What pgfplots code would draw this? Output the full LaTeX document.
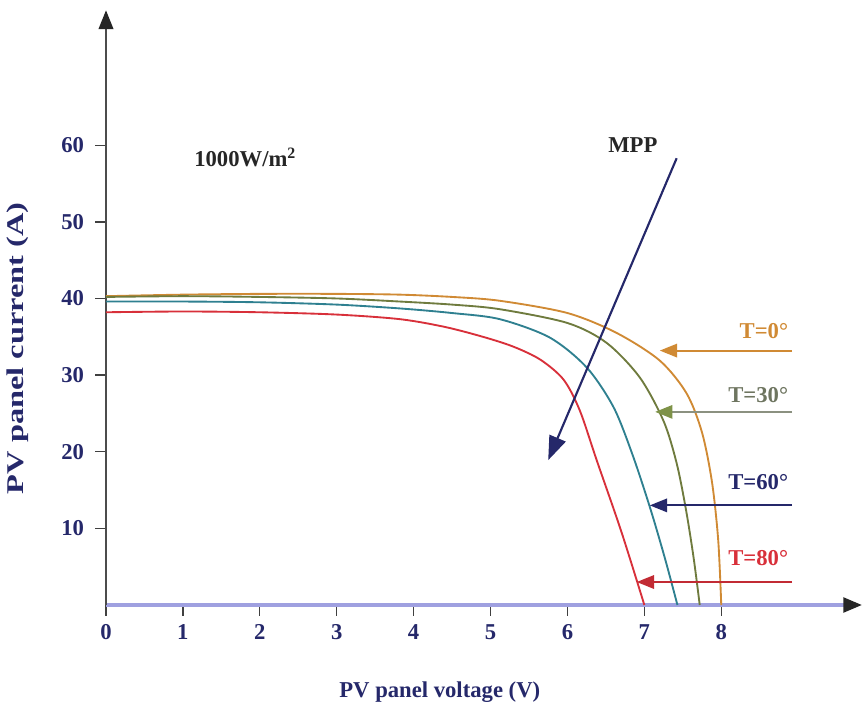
\documentclass[border=0pt]{standalone}
\usepackage{fontspec}
\setmainfont{Liberation Serif}
\usepackage{graphicx}
\usepackage{pgfplots}
\pgfplotsset{compat=1.18}
\usetikzlibrary{arrows.meta}
\definecolor{navy}{HTML}{25286A}
\definecolor{corange}{HTML}{D08A34}
\definecolor{colive}{HTML}{6F7B3E}
\definecolor{cteal}{HTML}{2F8090}
\definecolor{cred}{HTML}{D8303A}
\definecolor{lav}{HTML}{9FA0E0}
\definecolor{aolive}{HTML}{7E9248}
\definecolor{tolive}{HTML}{6E7560}
\begin{document}
\begin{tikzpicture}[font=\fontsize{17}{20}\selectfont\bfseries]
\begin{axis}[
  scale only axis, width=567pt, height=446pt,
  xmin=0, xmax=9.83, ymin=0, ymax=77.6,
  axis lines=left,
  x axis line style={draw=lav, line width=2.5pt, -{Triangle[length=14pt,width=11pt,color=black!85]}},
  y axis line style={draw=black!70, line width=1.2pt, -{Triangle[length=14pt,width=11pt,color=black!85]}},
  xtick={0,1,...,8}, ytick={10,20,...,60},
  tick align=outside, major tick length=8pt,
  tick style={black!75, line width=1pt},
  ticklabel style={color=navy, font=\fontsize{17}{20}\selectfont\bfseries},
  xticklabel style={yshift=-3pt},
  yticklabel style={xshift=-5pt},
  /pgf/number format/assume math mode=true,
  xlabel={PV panel voltage (V)},
  ylabel={\scalebox{1.35}[1]{PV panel current (A)}},
  x label style={at={(axis cs:4.34,0)}, anchor=center, yshift=-65pt, color=navy},
  y label style={at={(axis description cs:-0.1164,0.4318)}, anchor=center, color=navy, font=\fontsize{18}{21}\selectfont\bfseries},
  clip=false,
]
% T=0
\addplot[corange, line width=1.4pt, smooth] coordinates {
 (0,40.3) (1,40.5) (2,40.6) (3,40.6) (3.82,40.5) (4.5,40.2) (5.12,39.7) (6.0,38.1)
 (6.64,35.5) (7.2,31.9) (7.55,27.6) (7.75,22.5) (7.88,16) (7.96,8.5) (8.0,0)};
% T=30
\addplot[colive, line width=1.4pt, smooth] coordinates {
 (0,40.2) (1,40.3) (2,40.2) (3,40.0) (3.82,39.6) (4.5,39.2) (5.12,38.6) (6.0,36.8)
 (6.51,34.2) (6.94,29.7) (7.25,24) (7.42,18.5) (7.54,12.5) (7.64,6.2) (7.72,0)};
% T=60
\addplot[cteal, line width=1.4pt, smooth] coordinates {
 (0,39.6) (1,39.6) (2,39.5) (3,39.2) (3.82,38.7) (4.5,38.1) (5.12,37.3) (5.77,34.9)
 (6.25,31.0) (6.6,25.8) (6.85,19.5) (7.08,12.5) (7.27,6) (7.43,0)};
% T=80
\addplot[cred, line width=1.4pt, smooth] coordinates {
 (0,38.2) (1,38.3) (2,38.2) (3,37.9) (3.82,37.3) (4.4,36.3) (4.9,35.0) (5.3,33.7)
 (5.65,32.0) (5.95,29.4) (6.16,25.4) (6.38,18.9) (6.7,9.6) (7.0,0)};

% annotations
\node[black!85] at (axis cs:1.81,58.4) {1000W/m\textsuperscript{2}};
\node[black!85] at (axis cs:6.85,60) {MPP};
\draw[navy, line width=1.6pt, -{Triangle[length=18pt,width=13pt]}] (axis cs:7.42,58.3) -- (axis cs:5.75,18.9);

\draw[corange, line width=1.6pt, -{Triangle[length=13pt,width=10pt]}] (axis cs:8.92,33.2) -- (axis cs:7.2,33.2);
\node[corange, anchor=east] at (axis cs:8.93,35.7) {T=0°};
\draw[tolive!80, line width=1.6pt, -{Triangle[length=13pt,width=10pt,color=aolive]}] (axis cs:8.92,25.2) -- (axis cs:7.14,25.2);
\node[tolive, anchor=east] at (axis cs:8.93,27.4) {T=30°};
\draw[navy, line width=1.6pt, -{Triangle[length=13pt,width=10pt]}] (axis cs:8.92,13.0) -- (axis cs:7.07,13.0);
\node[navy, anchor=east] at (axis cs:8.93,16.0) {T=60°};
\draw[cred!90!black, line width=1.6pt, -{Triangle[length=13pt,width=10pt]}] (axis cs:8.92,3.0) -- (axis cs:6.9,3.0);
\node[cred, anchor=east] at (axis cs:8.93,6.1) {T=80°};
\end{axis}
\pgfresetboundingbox
\path (-79.5pt,-82.5pt) rectangle (569.25pt,453.75pt);
\end{tikzpicture}
\end{document}
